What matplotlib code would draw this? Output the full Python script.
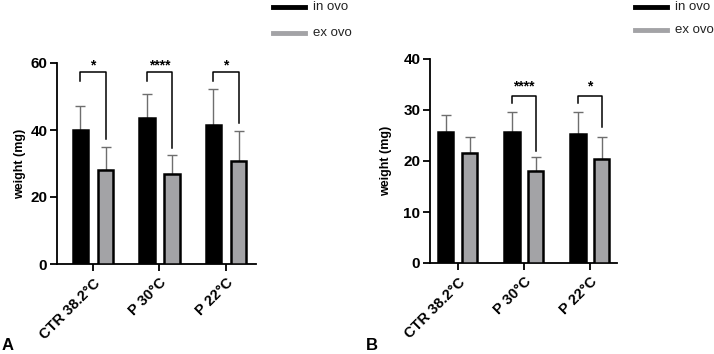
import matplotlib
matplotlib.use("Agg")
import matplotlib.pyplot as plt
import numpy as np

plt.rcParams['font.family'] = ['Liberation Sans', 'DejaVu Sans']

categories = ["CTR 38.2°C", "P 30°C", "P 22°C"]
series_names = ["in ovo", "ex ovo"]

# Panel A
a_in = [40.0, 43.5, 41.5]
a_in_err = [7.3, 7.1, 10.8]
a_ex = [28.0, 26.8, 30.7]
a_ex_err = [6.9, 5.6, 9.0]
a_stars = ["*", "****", "*"]

# Panel B
b_in = [25.6, 25.6, 25.3]
b_in_err = [3.4, 4.0, 4.4]
b_ex = [21.5, 18.1, 20.3]
b_ex_err = [3.3, 2.6, 4.5]
b_stars = [None, "****", "*"]

W, H = 714, 354
fig = plt.figure(figsize=(W / 100, H / 100), dpi=100)

black = "#000000"
grey = "#a3a3a6"
errc = "#6e6e6e"


def panel(rect, vin, ein, vex, eex, stars, ymax, yticks, xlim, off,
          br_top, br_left_bot, br_right_bot, star_y, legend_xy, letter, letter_xy, lpad):
    ax = fig.add_axes([rect[0] / W, 1 - rect[3] / H, (rect[2] - rect[0]) / W, (rect[3] - rect[1]) / H])
    x = np.arange(len(categories))
    bw = 0.23
    ax.errorbar(x - off, vin, yerr=[np.zeros(3), ein], fmt='none', ecolor=errc,
                elinewidth=1.0, capsize=3.5, capthick=1.0, zorder=2)
    ax.errorbar(x + off, vex, yerr=[np.zeros(3), eex], fmt='none', ecolor=errc,
                elinewidth=1.0, capsize=3.5, capthick=1.0, zorder=2)
    ax.bar(x - off, vin, bw, color=black, edgecolor=black, linewidth=1.8, zorder=3)
    ax.bar(x + off, vex, bw, color=grey, edgecolor=black, linewidth=1.8, zorder=3)
    for i, s in enumerate(stars):
        if s is None:
            continue
        xl, xr = x[i] - off, x[i] + off
        ax.plot([xl, xl, xr, xr], [br_left_bot[i], br_top, br_top, br_right_bot[i]],
                color='black', lw=1.1, clip_on=False, zorder=4)
        ax.text(x[i], star_y, s, ha='center', va='center', fontsize=10,
                fontweight='bold', clip_on=False)
    ax.set_xlim(*xlim)
    ax.set_ylim(0, ymax)
    ax.set_yticks(yticks)
    ax.set_yticklabels([str(t) for t in yticks], fontsize=11, fontweight='bold')
    ax.set_xticks(x)
    ax.set_xticklabels(categories, rotation=45, ha='right', rotation_mode='anchor',
                       fontsize=10.5, fontweight='bold')
    ax.set_ylabel("weight (mg)", fontsize=9, fontweight='bold', labelpad=lpad)
    for sp in ['top', 'right']:
        ax.spines[sp].set_visible(False)
    for sp in ['left', 'bottom']:
        ax.spines[sp].set_linewidth(1.3)
    ax.tick_params(axis='both', width=1.3, length=5)
    ax.tick_params(axis='y', pad=2)
    # legend
    lx, ly = legend_xy
    for j, (nm, c) in enumerate(zip(series_names, [black, grey])):
        yy = 1 - (ly[j]) / H
        fig.add_artist(plt.Line2D([lx / W, (lx + 32) / W], [yy, yy], color=c, lw=3.5))
        fig.text((lx + 40) / W, yy, nm, fontsize=9.5, va='center', ha='left', color='#222222')
    fig.text(letter_xy[0] / W, 1 - letter_xy[1] / H, letter, fontsize=12,
             fontweight='bold', va='center', ha='left')
    return ax


panel((57, 63, 256, 264), a_in, a_in_err, a_ex, a_ex_err, a_stars, 60, [0, 20, 40, 60],
      (-0.54, 2.45), 0.19, 57.2, [54.6, 54.6, 54.6], [37.3, 34.7, 42.2], 59.3,
      (273, [7, 33]), "A", (2, 346), 3)

panel((430, 59, 617, 263), b_in, b_in_err, b_ex, b_ex_err, b_stars, 40, [0, 10, 20, 30, 40],
      (-0.42, 2.41), 0.18, 32.8, [31.3, 31.3, 31.3], [0, 22.0, 26.6], 34.6,
      (635, [7, 30]), "B", (366, 346), 8)

fig.savefig("out.png", dpi=100, facecolor='white')
